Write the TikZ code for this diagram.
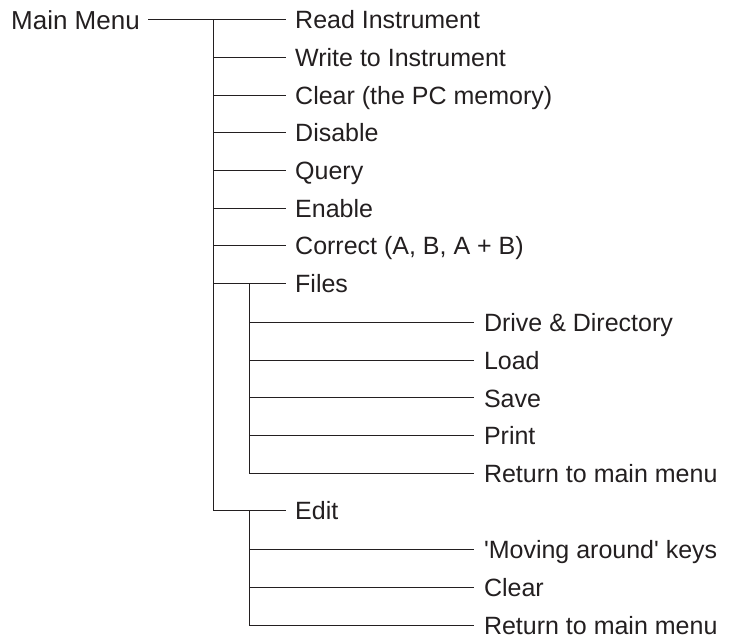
\documentclass[tikz,border=0pt]{standalone}
\usepackage{fontspec}
\setmainfont{Liberation Sans}
\definecolor{ink}{HTML}{231F20}
\begin{document}
\begin{tikzpicture}[x=1pt,y=-1pt,
  item/.style={anchor=west,inner xsep=9.5pt,inner ysep=0pt,text height=18.3pt,text depth=0pt,
    font=\fontsize{25}{30}\selectfont,text=ink},
  link/.style={draw=ink,line width=0.9pt}]
\useasboundingbox (0,0) rectangle (736,639);
% main column
\node[item,anchor=east,inner xsep=8pt,text height=19pt,font=\fontsize{26}{30}\selectfont] (mm) at (148,19.6) {Main Menu};
\coordinate (t) at (213,19.6);
\coordinate (s) at (249,0);
\node[item] (n1) at (285.5,19.6) {Read Instrument};
\node[item] (n2) at (285.5,57.3) {Write to Instrument};
\node[item] (n3) at (285.5,95.0) {Clear (the PC memory)};
\node[item] (n4) at (285.5,132.7) {Disable};
\node[item] (n5) at (285.5,170.3) {Query};
\node[item] (n6) at (285.5,208.0) {Enable};
\node[item] (n7) at (285.5,245.8) {Correct (A, B, A + B)};
\node[item] (files) at (285.5,283.5) {Files};
\node[item] (f1) at (474.3,322.7) {Drive \& Directory};
\node[item] (f2) at (474.3,360.3) {Load};
\node[item] (f3) at (474.3,397.9) {Save};
\node[item] (f4) at (474.3,435.7) {Print};
\node[item] (f5) at (474.3,473.8) {Return to main menu};
\node[item] (edit) at (285.5,510.3) {Edit};
\node[item] (e1) at (474.3,549.3) {\textquotesingle Moving around\textquotesingle{} keys};
\node[item] (e2) at (474.3,587.2) {Clear};
\node[item] (e3) at (474.3,625.0) {Return to main menu};
% connectors
\draw[link] (mm.east) -- (n1.west);
\draw[link] (t) -- (t |- edit.west);
\foreach \n in {n2,n3,n4,n5,n6,n7,files,edit}
  \draw[link] (t |- \n.west) -- (\n.west);
\draw[link] (s |- files.west) -- (s |- f5.west);
\foreach \n in {f1,f2,f3,f4,f5}
  \draw[link] (s |- \n.west) -- (\n.west);
\draw[link] (s |- edit.west) -- (s |- e3.west);
\foreach \n in {e1,e2,e3}
  \draw[link] (s |- \n.west) -- (\n.west);
\end{tikzpicture}
\end{document}
